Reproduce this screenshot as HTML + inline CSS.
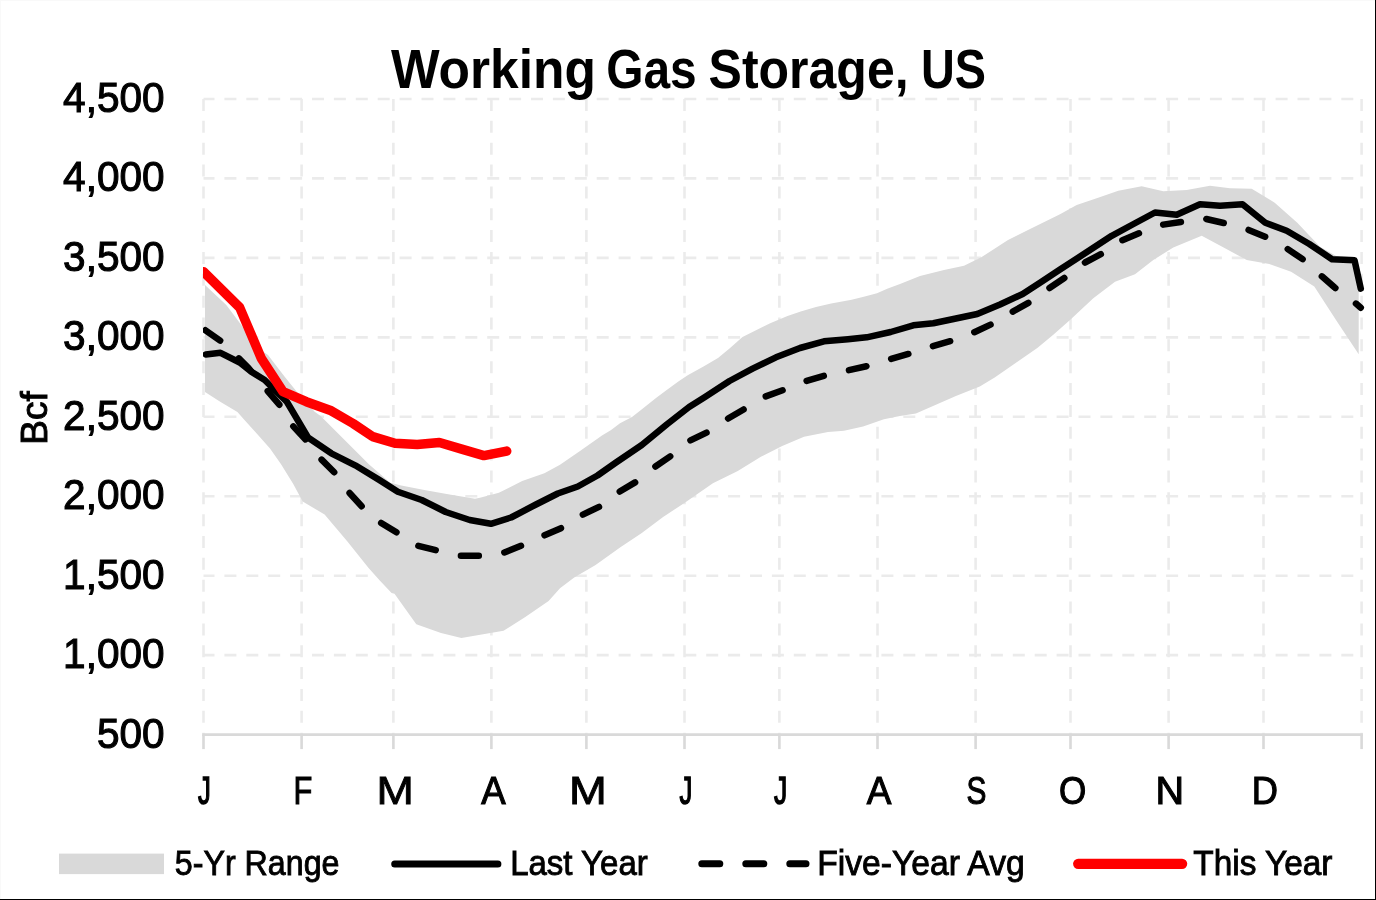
<!DOCTYPE html>
<html><head><meta charset="utf-8"><style>
html,body{margin:0;padding:0;background:#fff;}
body{width:1376px;height:900px;overflow:hidden;position:relative;}
svg{position:absolute;left:0;top:0;will-change:transform;}
text{font-family:"Liberation Sans",sans-serif;fill:#000;}
</style></head><body>
<svg width="1376" height="900" viewBox="0 0 1376 900">
<defs><clipPath id="pc"><rect x="202.9" y="0" width="1200" height="900"/></clipPath></defs>
<rect x="0" y="0" width="1376" height="900" fill="#fff"/>
<g><line x1="203.5" y1="99.0" x2="1361.6" y2="99.0" stroke="#ebebeb" stroke-width="2.6" stroke-dasharray="12 9.9" stroke-dashoffset="1"/>
<line x1="203.5" y1="178.4" x2="1361.6" y2="178.4" stroke="#ebebeb" stroke-width="2.6" stroke-dasharray="12 9.9" stroke-dashoffset="1"/>
<line x1="203.5" y1="257.9" x2="1361.6" y2="257.9" stroke="#ebebeb" stroke-width="2.6" stroke-dasharray="12 9.9" stroke-dashoffset="1"/>
<line x1="203.5" y1="337.4" x2="1361.6" y2="337.4" stroke="#ebebeb" stroke-width="2.6" stroke-dasharray="12 9.9" stroke-dashoffset="1"/>
<line x1="203.5" y1="416.8" x2="1361.6" y2="416.8" stroke="#ebebeb" stroke-width="2.6" stroke-dasharray="12 9.9" stroke-dashoffset="1"/>
<line x1="203.5" y1="496.2" x2="1361.6" y2="496.2" stroke="#ebebeb" stroke-width="2.6" stroke-dasharray="12 9.9" stroke-dashoffset="1"/>
<line x1="203.5" y1="575.7" x2="1361.6" y2="575.7" stroke="#ebebeb" stroke-width="2.6" stroke-dasharray="12 9.9" stroke-dashoffset="1"/>
<line x1="203.5" y1="655.1" x2="1361.6" y2="655.1" stroke="#ebebeb" stroke-width="2.6" stroke-dasharray="12 9.9" stroke-dashoffset="1"/>
<line x1="203.5" y1="99.0" x2="203.5" y2="734.6" stroke="#ebebeb" stroke-width="2.6" stroke-dasharray="12 9.85"/>
<line x1="301.6" y1="99.0" x2="301.6" y2="734.6" stroke="#ebebeb" stroke-width="2.6" stroke-dasharray="12 9.85"/>
<line x1="393.4" y1="99.0" x2="393.4" y2="734.6" stroke="#ebebeb" stroke-width="2.6" stroke-dasharray="12 9.85"/>
<line x1="491.4" y1="99.0" x2="491.4" y2="734.6" stroke="#ebebeb" stroke-width="2.6" stroke-dasharray="12 9.85"/>
<line x1="586.4" y1="99.0" x2="586.4" y2="734.6" stroke="#ebebeb" stroke-width="2.6" stroke-dasharray="12 9.85"/>
<line x1="684.5" y1="99.0" x2="684.5" y2="734.6" stroke="#ebebeb" stroke-width="2.6" stroke-dasharray="12 9.85"/>
<line x1="779.4" y1="99.0" x2="779.4" y2="734.6" stroke="#ebebeb" stroke-width="2.6" stroke-dasharray="12 9.85"/>
<line x1="877.5" y1="99.0" x2="877.5" y2="734.6" stroke="#ebebeb" stroke-width="2.6" stroke-dasharray="12 9.85"/>
<line x1="975.6" y1="99.0" x2="975.6" y2="734.6" stroke="#ebebeb" stroke-width="2.6" stroke-dasharray="12 9.85"/>
<line x1="1070.5" y1="99.0" x2="1070.5" y2="734.6" stroke="#ebebeb" stroke-width="2.6" stroke-dasharray="12 9.85"/>
<line x1="1168.6" y1="99.0" x2="1168.6" y2="734.6" stroke="#ebebeb" stroke-width="2.6" stroke-dasharray="12 9.85"/>
<line x1="1263.5" y1="99.0" x2="1263.5" y2="734.6" stroke="#ebebeb" stroke-width="2.6" stroke-dasharray="12 9.85"/>
<line x1="1361.6" y1="99.0" x2="1361.6" y2="734.6" stroke="#ebebeb" stroke-width="2.6" stroke-dasharray="12 9.85"/></g>
<polygon points="205.0,285.0 226.3,305.0 241.3,325.0 258.0,348.3 268.0,355.0 284.7,376.7 298.0,393.3 314.7,411.7 320.6,416.0 344.6,440.0 368.6,464.0 389.9,482.6 400.0,485.3 424.3,489.9 451.0,494.7 475.0,498.7 480.0,497.8 498.9,492.8 522.2,481.1 544.4,473.3 560.0,464.7 580.0,451.0 602.0,435.5 611.1,430.0 620.0,423.3 632.0,417.0 640.0,410.7 656.0,398.0 666.7,390.0 678.7,381.3 687.7,375.2 703.5,366.5 718.0,357.9 729.5,348.5 742.5,336.9 760.0,328.3 770.2,323.2 787.5,316.1 800.7,311.5 816.0,307.0 831.2,303.4 851.6,299.8 863.8,296.8 877.0,293.2 887.2,288.7 900.0,284.1 920.0,276.0 944.0,270.0 964.0,265.7 981.3,257.3 1008.0,240.0 1028.0,230.0 1060.0,214.2 1076.7,205.0 1096.7,198.3 1118.3,190.8 1141.7,186.3 1163.3,191.3 1186.7,190.0 1210.0,185.8 1230.0,188.3 1251.7,188.7 1274.7,202.7 1297.3,222.7 1320.0,246.7 1341.3,259.0 1358.7,264.5 1358.7,354.2 1336.0,320.0 1314.3,286.6 1291.1,271.8 1269.3,264.0 1246.7,260.0 1225.0,248.3 1201.7,235.8 1173.3,247.5 1153.3,260.0 1135.0,274.2 1115.0,281.7 1093.3,298.3 1070.0,320.0 1053.3,334.7 1037.3,348.0 1016.0,362.7 994.7,377.5 979.8,386.4 955.9,396.0 931.9,406.4 915.9,413.6 899.9,416.0 883.9,419.2 863.1,426.4 844.0,430.8 828.0,432.0 804.0,436.8 782.2,446.0 760.9,456.7 737.8,470.9 712.9,483.3 684.4,502.9 663.1,517.1 641.8,533.1 620.4,547.3 595.6,565.1 574.2,577.6 560.0,588.2 548.6,601.0 525.3,617.0 503.5,630.8 481.7,634.5 461.4,638.1 441.0,633.0 416.3,624.3 394.5,593.8 391.6,593.1 380.0,580.7 368.6,567.9 347.2,541.2 324.6,514.6 302.7,501.4 293.4,484.3 280.9,464.0 270.0,448.5 257.6,434.5 243.6,418.9 237.4,411.9 220.2,401.8 205.0,392.0" fill="#d9d9d9"/>
<line x1="202.2" y1="734.6" x2="1362.9" y2="734.6" stroke="#d9d9d9" stroke-width="2.6"/>
<line x1="203.5" y1="734.6" x2="203.5" y2="749.1" stroke="#d9d9d9" stroke-width="2.6"/>
<line x1="301.6" y1="734.6" x2="301.6" y2="749.1" stroke="#d9d9d9" stroke-width="2.6"/>
<line x1="393.4" y1="734.6" x2="393.4" y2="749.1" stroke="#d9d9d9" stroke-width="2.6"/>
<line x1="491.4" y1="734.6" x2="491.4" y2="749.1" stroke="#d9d9d9" stroke-width="2.6"/>
<line x1="586.4" y1="734.6" x2="586.4" y2="749.1" stroke="#d9d9d9" stroke-width="2.6"/>
<line x1="684.5" y1="734.6" x2="684.5" y2="749.1" stroke="#d9d9d9" stroke-width="2.6"/>
<line x1="779.4" y1="734.6" x2="779.4" y2="749.1" stroke="#d9d9d9" stroke-width="2.6"/>
<line x1="877.5" y1="734.6" x2="877.5" y2="749.1" stroke="#d9d9d9" stroke-width="2.6"/>
<line x1="975.6" y1="734.6" x2="975.6" y2="749.1" stroke="#d9d9d9" stroke-width="2.6"/>
<line x1="1070.5" y1="734.6" x2="1070.5" y2="749.1" stroke="#d9d9d9" stroke-width="2.6"/>
<line x1="1168.6" y1="734.6" x2="1168.6" y2="749.1" stroke="#d9d9d9" stroke-width="2.6"/>
<line x1="1263.5" y1="734.6" x2="1263.5" y2="749.1" stroke="#d9d9d9" stroke-width="2.6"/>
<line x1="1361.6" y1="734.6" x2="1361.6" y2="749.1" stroke="#d9d9d9" stroke-width="2.6"/>
<g clip-path="url(#pc)" fill="none" stroke-linejoin="round" stroke-linecap="round">
<polyline points="205.5,330.3 221.5,341.5 238.0,357.5 248.3,367.8 267.2,390.5 280.6,406.2 292.3,425.3 307.3,441.3 320.6,458.6 335.2,473.3 348.6,491.9 363.2,507.9 380.5,522.6 397.9,533.2 417.8,545.8 437.4,550.5 459.9,555.7 480.3,555.7 503.5,552.8 521.7,545.5 543.8,535.6 561.8,527.8 581.3,515.3 600.0,506.4 618.7,492.2 636.4,481.6 654.2,467.3 671.1,455.8 689.8,440.7 707.6,432.1 727.4,418.9 745.4,408.4 764.2,396.9 784.4,389.6 805.3,381.3 825.3,375.5 846.7,370.7 868.0,365.9 889.3,359.5 910.7,353.3 930.7,346.7 952.0,340.7 973.3,332.7 992.0,324.0 1012.0,312.0 1029.3,302.3 1048.0,289.0 1065.3,277.3 1085.0,262.5 1102.5,253.3 1120.8,240.8 1140.8,232.5 1160.8,225.0 1182.5,221.7 1203.3,218.3 1225.0,223.3 1246.7,229.2 1265.3,236.8 1285.3,247.5 1302.7,259.2 1320.0,274.7 1334.7,287.5 1353.3,301.3 1360.8,307.7" stroke="#000" stroke-width="6.5" stroke-dasharray="17.9 25.8"/>
<polyline points="205.8,354.4 220.5,352.8 239.7,362.5 251.3,371.7 264.7,380.0 274.7,390.0 287.0,402.0 308.0,437.5 331.3,453.3 355.2,465.3 379.2,479.9 397.8,491.7 421.7,500.0 445.7,512.0 469.7,520.0 490.9,523.8 511.1,517.5 536.0,504.5 557.8,493.5 577.8,486.5 597.5,475.5 616.0,462.5 641.8,445.0 666.7,424.5 689.1,407.0 705.0,396.9 729.5,381.0 752.6,368.7 776.0,357.3 800.0,348.0 824.0,341.3 848.0,339.2 866.7,337.3 890.7,332.0 913.3,325.3 933.3,323.3 954.7,318.7 977.3,314.0 1000.0,304.5 1022.7,294.0 1040.0,282.7 1060.0,269.5 1085.0,253.3 1111.7,235.8 1131.7,225.0 1155.0,212.5 1176.7,214.7 1200.0,204.2 1220.0,205.8 1242.5,204.2 1265.3,222.7 1286.7,230.7 1309.3,244.0 1332.0,259.2 1354.5,260.2 1360.8,288.7" stroke="#000" stroke-width="6.5"/>
<polyline points="203.5,271.7 239.7,307.5 261.3,358.3 283.0,391.7 306.3,401.7 331.3,410.8 353.1,423.5 372.7,436.6 394.9,443.2 417.2,444.5 439.4,442.5 461.7,449.1 483.9,455.6 506.7,451.1" stroke="#ff0000" stroke-width="9.5"/>
</g>
<g font-weight="bold" font-size="55.4">
<text x="390.9" y="88" textLength="205.1" lengthAdjust="spacingAndGlyphs">Working</text>
<text x="606.27" y="88" textLength="90.46" lengthAdjust="spacingAndGlyphs">Gas</text>
<text x="708.6" y="88" textLength="199.98" lengthAdjust="spacingAndGlyphs">Storage,</text>
<text x="920.97" y="88" textLength="64.98" lengthAdjust="spacingAndGlyphs">US</text>
</g>
<g font-size="42" stroke="#000" stroke-width="1.1"><text transform="translate(164.5,112.0) scale(0.965,1)" text-anchor="end">4,500</text>
<text transform="translate(164.5,191.4) scale(0.965,1)" text-anchor="end">4,000</text>
<text transform="translate(164.5,270.9) scale(0.965,1)" text-anchor="end">3,500</text>
<text transform="translate(164.5,350.4) scale(0.965,1)" text-anchor="end">3,000</text>
<text transform="translate(164.5,429.8) scale(0.965,1)" text-anchor="end">2,500</text>
<text transform="translate(164.5,509.2) scale(0.965,1)" text-anchor="end">2,000</text>
<text transform="translate(164.5,588.7) scale(0.965,1)" text-anchor="end">1,500</text>
<text transform="translate(164.5,668.1) scale(0.965,1)" text-anchor="end">1,000</text>
<text transform="translate(164.5,747.6) scale(0.965,1)" text-anchor="end">500</text></g>
<g font-size="38.5" stroke="#000" stroke-width="1.1"><text x="198.00" y="804" textLength="12.8" lengthAdjust="spacingAndGlyphs" stroke-width="1.5">J</text>
<text x="293.60" y="804" textLength="18.82" lengthAdjust="spacingAndGlyphs">F</text>
<text x="376.51" y="804" textLength="37.31" lengthAdjust="spacingAndGlyphs" stroke-width="0.85">M</text>
<text x="481.20" y="804" textLength="24.4" lengthAdjust="spacingAndGlyphs">A</text>
<text x="569.07" y="804" textLength="37.78" lengthAdjust="spacingAndGlyphs" stroke-width="0.85">M</text>
<text x="679.60" y="804" textLength="12.8" lengthAdjust="spacingAndGlyphs" stroke-width="1.5">J</text>
<text x="773.90" y="804" textLength="13.25" lengthAdjust="spacingAndGlyphs" stroke-width="1.5">J</text>
<text x="866.80" y="804" textLength="24.6" lengthAdjust="spacingAndGlyphs">A</text>
<text x="966.62" y="804" textLength="19.91" lengthAdjust="spacingAndGlyphs">S</text>
<text x="1058.89" y="804" textLength="27.28" lengthAdjust="spacingAndGlyphs">O</text>
<text x="1155.62" y="804" textLength="28.57" lengthAdjust="spacingAndGlyphs">N</text>
<text x="1251.68" y="804" textLength="26.19" lengthAdjust="spacingAndGlyphs">D</text></g>
<text transform="translate(46.5,418) rotate(-90)" font-size="36" text-anchor="middle" stroke="#000" stroke-width="1" textLength="53.5" lengthAdjust="spacingAndGlyphs">Bcf</text>
<rect x="59" y="853.6" width="105" height="20.5" fill="#d9d9d9"/>
<line x1="394.7" y1="864.1" x2="497.9" y2="864.1" stroke="#000" stroke-width="7" stroke-linecap="round"/>
<line x1="701.8" y1="863.8" x2="806" y2="863.8" stroke="#000" stroke-width="7" stroke-linecap="round" stroke-dasharray="18 26"/>
<line x1="1078.2" y1="863.8" x2="1182.1" y2="863.8" stroke="#ff0000" stroke-width="10.3" stroke-linecap="round"/>
<g font-size="35" stroke="#000" stroke-width="0.9">
<text x="174.87" y="875" textLength="164.62" lengthAdjust="spacingAndGlyphs">5-Yr Range</text>
<text x="510.19" y="875" textLength="137.51" lengthAdjust="spacingAndGlyphs">Last Year</text>
<text x="817.13" y="875" textLength="207.6" lengthAdjust="spacingAndGlyphs">Five-Year Avg</text>
<text x="1193.35" y="875" textLength="139.13" lengthAdjust="spacingAndGlyphs">This Year</text>
</g>
<rect x="0" y="0" width="1376" height="1" fill="#f9f9f9"/>
<rect x="0" y="0" width="1" height="900" fill="#f9f9f9"/>
<rect x="1375" y="0" width="1" height="900" fill="#000"/>
<rect x="0" y="899" width="1376" height="1" fill="#000"/>
</svg>
</body></html>
